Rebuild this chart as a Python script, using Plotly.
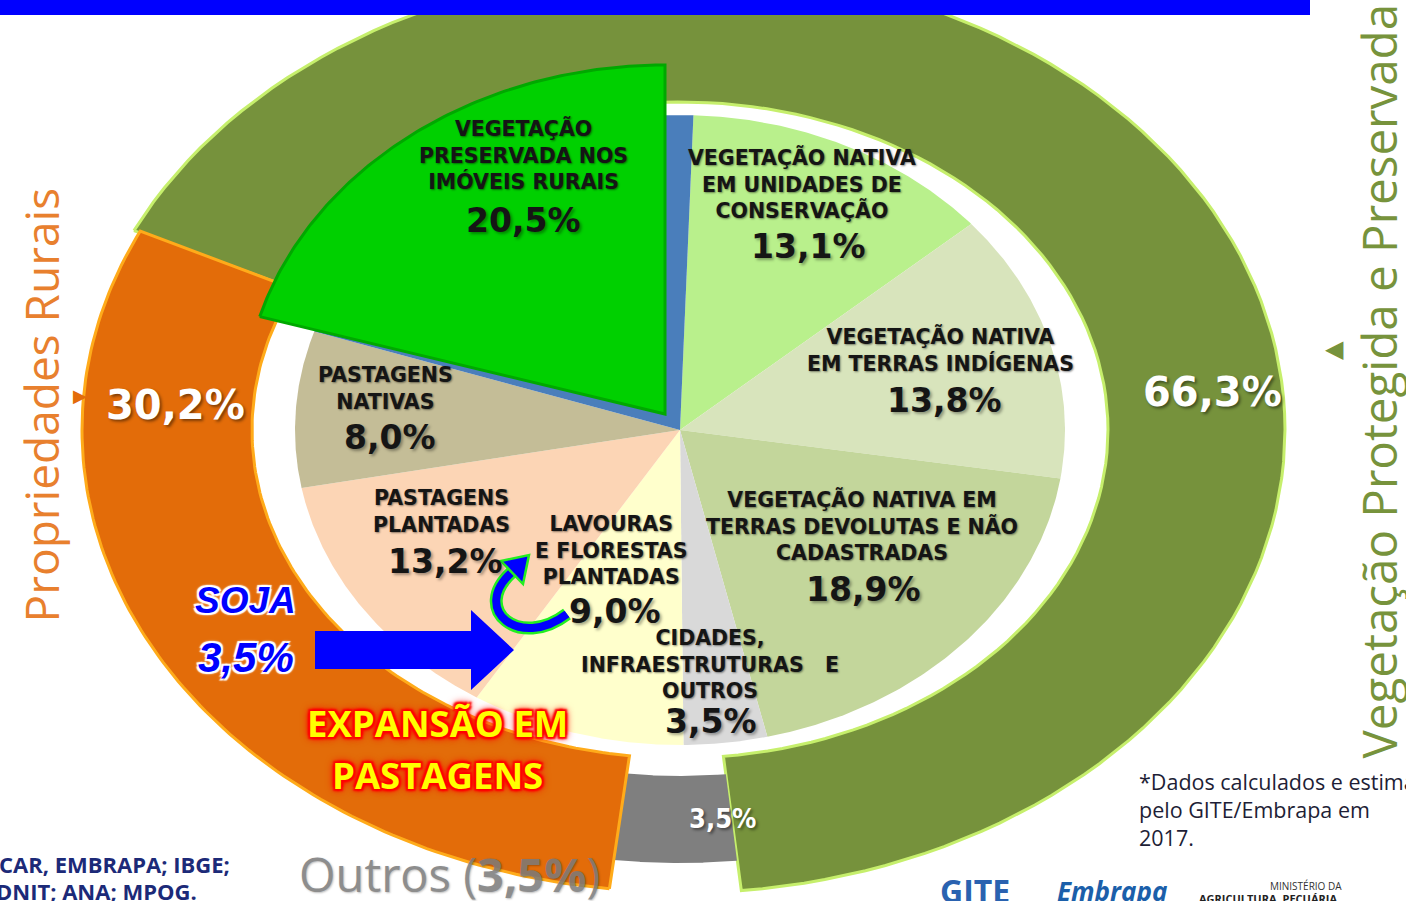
import numpy as np
import plotly.graph_objects as go

# ---------------- data ----------------
ring_labels = ["Vegetação Protegida e Preservada", "Outros", "Propriedades Rurais"]
ring_values = [66.3, 3.5, 30.2]

pie_labels = [
    "VEGETAÇÃO NATIVA<br>EM UNIDADES DE<br>CONSERVAÇÃO",
    "VEGETAÇÃO NATIVA<br>EM TERRAS INDÍGENAS",
    "VEGETAÇÃO NATIVA EM<br>TERRAS DEVOLUTAS E NÃO<br>CADASTRADAS",
    "CIDADES,<br>INFRAESTRUTURAS   E<br>OUTROS",
    "LAVOURAS<br>E FLORESTAS<br>PLANTADAS",
    "PASTAGENS<br>PLANTADAS",
    "PASTAGENS<br>NATIVAS",
    "VEGETAÇÃO<br>PRESERVADA NOS<br>IMÓVEIS RURAIS",
]
pie_values = [13.1, 13.8, 18.9, 3.5, 9.0, 13.2, 8.0, 20.5]
soja_value = 3.5

# ---------------- style ----------------
W, H = 1406, 901
CX, CY = 680, 430
ring_colors = ["#76923c", "#7f7f7f", "#e36c09"]
ring_lines = ["#c6ef6c", "#7f7f7f", "#ffab1a"]
ring_line_w = [3, 0, 3]
ring_radii = [(605, 463, 428, 328), (562, 433, 452, 346), (598, 462, 428, 328)]
ring_start = -64.5

pie_colors = ["#b9f08c", "#d8e4bc", "#c3d69b", "#d9d9d9", "#ffffcc", "#fcd5b5", "#c4bd97", "#4a7ebb"]
pie_rot = 2.0
PRX, PRY = 385, 315
hl_index = 7
hl_color = "#00d000"
hl_center = (665, 414)
hl_radii = (422, 349)

label_pos = [(802, 184), (940, 350), (862, 526), (710, 664), (611, 550), (441, 511), (385, 388), (523, 155)]
pct_pos = [(808, 246), (944, 400), (863, 589), (711, 721), (615, 611), (445, 561), (390, 437), (523, 220)]


def fmt(v):
    return f"{v:.1f}".replace(".", ",") + "%"


def wedge(cx, cy, rxo, ryo, rxi, ryi, a0, a1, n=120):
    t = np.radians(np.linspace(a0, a1, n))
    xo = cx + rxo * np.sin(t)
    yo = cy - ryo * np.cos(t)
    if rxi > 0:
        xi = cx + rxi * np.sin(t[::-1])
        yi = cy - ryi * np.cos(t[::-1])
    else:
        xi = np.array([cx])
        yi = np.array([cy])
    x = np.concatenate([xo, xi, xo[:1]])
    y = np.concatenate([yo, yi, yo[:1]])
    return x, y


fig = go.Figure()

# outer ring
a = ring_start
for i, v in enumerate(ring_values):
    a1 = a + v * 3.6
    rxo, ryo, rxi, ryi = ring_radii[i]
    x, y = wedge(CX, CY, rxo, ryo, rxi, ryi, a, a1)
    fig.add_trace(go.Scatter(x=x, y=y, mode="lines", fill="toself",
                             fillcolor=ring_colors[i],
                             line=dict(color=ring_lines[i], width=ring_line_w[i]),
                             hoverinfo="text", text=ring_labels[i], showlegend=False))
    a = a1

# inner pie
a = pie_rot
angles = []
for i, v in enumerate(pie_values):
    a1 = a + v * 3.6
    angles.append((a, a1))
    x, y = wedge(CX, CY, PRX, PRY, 0, 0, a, a1)
    fig.add_trace(go.Scatter(x=x, y=y, mode="lines", fill="toself",
                             fillcolor=pie_colors[i], line=dict(width=0),
                             hoverinfo="skip", showlegend=False))
    a = a1

# highlighted (exploded) slice
a0, a1 = angles[hl_index]
x, y = wedge(hl_center[0], hl_center[1], hl_radii[0], hl_radii[1], 0, 0, a0 - 2.0, a1 - 2.0)
fig.add_trace(go.Scatter(x=x, y=y, mode="lines", fill="toself",
                         fillcolor=hl_color, line=dict(color="#00a800", width=3),
                         hoverinfo="skip", showlegend=False))

ann = []
lab_shadow = "1px 1px 2px rgba(0,0,0,0.45)"
for i, lab in enumerate(pie_labels):
    ann.append(dict(x=label_pos[i][0], y=label_pos[i][1], text=lab, showarrow=False,
                    font=dict(family="DejaVu Sans", size=20.5, color="#151515", weight="bold",
                              shadow=lab_shadow)))
    ann.append(dict(x=pct_pos[i][0], y=pct_pos[i][1], text=fmt(pie_values[i]), showarrow=False,
                    font=dict(family="DejaVu Sans", size=33, color="#151515", weight="bold",
                              shadow="2px 2px 3px rgba(0,0,0,0.35)")))

white_shadow = "2px 2px 3px rgba(0,0,0,0.45)"
ann.append(dict(x=175, y=405, text=fmt(ring_values[2]), showarrow=False,
                font=dict(family="DejaVu Sans", size=40, color="white", weight="bold", shadow=white_shadow)))
ann.append(dict(x=1212, y=392, text=fmt(ring_values[0]), showarrow=False,
                font=dict(family="DejaVu Sans", size=40, color="white", weight="bold", shadow=white_shadow)))
ann.append(dict(x=722, y=818, text=fmt(ring_values[1]), showarrow=False,
                font=dict(family="DejaVu Sans Condensed, DejaVu Sans", size=27, color="white", weight="bold",
                          shadow=white_shadow)))

# side titles
ann.append(dict(x=40, y=625, yanchor="bottom", text=ring_labels[2], textangle=-90, showarrow=False,
                font=dict(family="Open Sans", size=46, color="#e8802e")))
ann.append(dict(x=1378, y=761, yanchor="bottom", text=ring_labels[0], textangle=-90, showarrow=False,
                font=dict(family="Open Sans", size=47.5, color="#77933c")))
ann.append(dict(x=80, y=395, text="▶", showarrow=False, font=dict(size=18, color="#e36c09")))
ann.append(dict(x=1334, y=347, text="◀", showarrow=False, font=dict(size=24, color="#77933c")))

# soja
soja_shadow = ("-2px -2px 1px #fff, 2px -2px 1px #fff, -2px 2px 1px #fff, 2px 2px 1px #fff, "
               "0 0 4px #fff")
ann.append(dict(x=245, y=600, text="<i>SOJA</i>", showarrow=False,
                font=dict(family="Liberation Sans", size=37, color="#0000ff", weight="bold", shadow=soja_shadow)))
ann.append(dict(x=246, y=657, text="<i>" + fmt(soja_value) + "</i>", showarrow=False,
                font=dict(family="Liberation Sans", size=42, color="#0000ff", weight="bold", shadow=soja_shadow)))

red_glow = ("-2px -2px 2px #ff0000, 2px -2px 2px #ff0000, -2px 2px 2px #ff0000, 2px 2px 2px #ff0000, "
            "0 0 6px #ff0000, 0 0 10px #ff0000")
ann.append(dict(x=437, y=723, text="EXPANSÃO EM", showarrow=False,
                font=dict(family="Open Sans", size=36.5, color="#ffff00", weight="bold", shadow=red_glow)))
ann.append(dict(x=437, y=775, text="PASTAGENS", showarrow=False,
                font=dict(family="Open Sans", size=36.5, color="#ffff00", weight="bold", shadow=red_glow)))

ann.append(dict(x=297, y=874, xanchor="left", text="Outros (<b>" + fmt(ring_values[1]) + "</b>)",
                showarrow=False, opacity=0.85,
                font=dict(family="Open Sans", size=47, color="#7a7a7a", shadow="1px 1px 2px rgba(0,0,0,0.3)")))

# footer
ann.append(dict(x=0, xshift=-3, y=864, xanchor="left", text="CAR, EMBRAPA; IBGE;", showarrow=False,
                font=dict(family="Open Sans", size=22, color="#1c2a78", weight="bold")))
ann.append(dict(x=0, xshift=-6, y=891, xanchor="left", text="DNIT; ANA; MPOG.", showarrow=False,
                font=dict(family="Open Sans", size=22, color="#1c2a78", weight="bold")))
for txt, yy in [("*Dados calculados e estimados", 781), ("pelo GITE/Embrapa em", 809), ("2017.", 837)]:
    ann.append(dict(x=1137, y=yy, xanchor="left", text=txt, showarrow=False,
                    font=dict(family="Open Sans", size=21.5, color="#1e1e36")))
ann.append(dict(x=975, y=900, yshift=10, text="GITE", showarrow=False,
                font=dict(family="Open Sans", size=32, color="#2a62b0", weight="bold")))
ann.append(dict(x=1112, y=900, yshift=9, text="<i>Embrapa</i>", showarrow=False,
                font=dict(family="Open Sans", size=26, color="#1b5faa", weight="bold")))
ann.append(dict(x=1306, y=886, text="MINISTÉRIO DA", showarrow=False,
                font=dict(family="Open Sans", size=10, color="#333333")))
ann.append(dict(x=1268, y=898, text="AGRICULTURA, PECUÁRIA", showarrow=False,
                font=dict(family="Open Sans", size=11, color="#222222", weight="bold")))

shapes = [
    dict(type="rect", x0=0, x1=1310, y0=0, y1=15, fillcolor="#0000ff", line=dict(width=0), layer="above"),
    dict(type="path", path="M 315 631 L 471 631 L 471 610 L 514 650 L 471 690 L 471 669 L 315 669 Z",
         fillcolor="#0000ff", line=dict(width=0), layer="above"),
    dict(type="path", path="M 567 614 C 520 650 470 610 512 572", line=dict(color="#22ee22", width=13),
         layer="above"),
    dict(type="path", path="M 567 614 C 520 650 470 610 512 572", line=dict(color="#0000ff", width=8),
         layer="above"),
    dict(type="path", path="M 501 561 L 529 555 L 523 584 Z", fillcolor="#0000ff",
         line=dict(color="#22ee22", width=2.5), layer="above"),
]

fig.update_layout(
    width=W, height=H, margin=dict(l=0, r=0, t=0, b=0),
    paper_bgcolor="white", plot_bgcolor="white",
    xaxis=dict(range=[0, W], visible=False, fixedrange=True),
    yaxis=dict(range=[H, 0], visible=False, fixedrange=True),
    annotations=ann, shapes=shapes, showlegend=False,
)

fig.write_html("out.html", config={"displayModeBar": False},
               post_script="document.body.style.margin='0';document.body.style.overflow='hidden';")
